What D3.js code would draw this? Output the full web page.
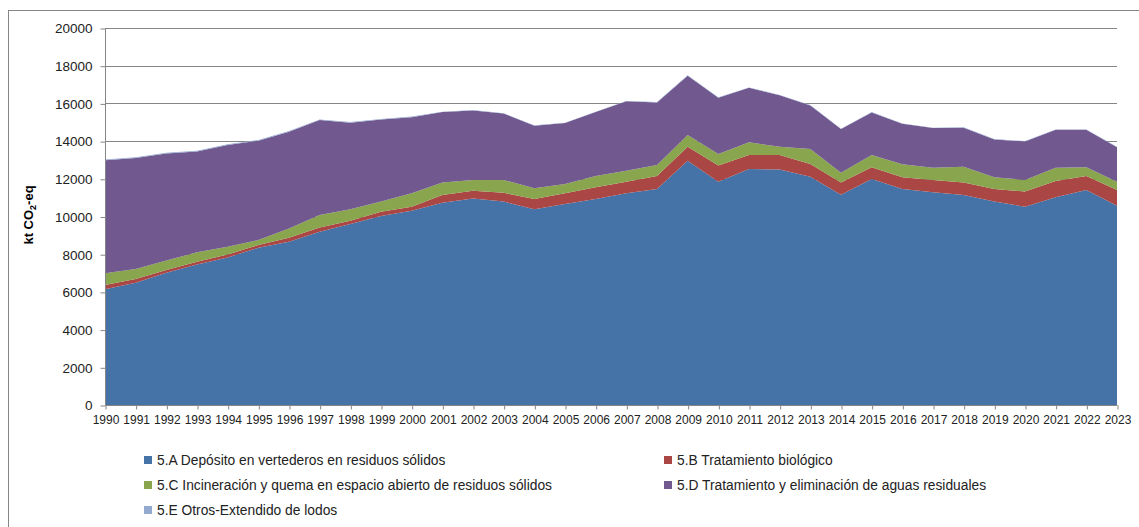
<!DOCTYPE html>
<html>
<head>
<meta charset="utf-8">
<script src="https://cdn.jsdelivr.net/npm/d3@7"></script>
<style>
  html, body { margin: 0; padding: 0; background: #fff; }
  svg { display: block; font-family: "Liberation Sans", Arial, sans-serif; }
</style>
</head>
<body>
<svg id="chart" width="1139" height="527"></svg>
<script>
const years = d3.range(1990, 2024);
const seriesNames = [
  "5.A Depósito en vertederos en residuos sólidos",
  "5.B Tratamiento biológico",
  "5.C Incineración y quema en espacio abierto de residuos sólidos",
  "5.D Tratamiento y eliminación de aguas residuales",
  "5.E Otros-Extendido de lodos"
];
const seriesKeys = ["A", "B", "C", "D", "E"];
const seriesColors = ["#4572A7", "#AA4643", "#89A54E", "#71588F", "#93A9CF"];

const valA = [6140, 6490, 7020, 7460, 7830, 8340, 8660, 9190, 9600, 10030,
  10300, 10730, 10960, 10790, 10380, 10660, 10930, 11230, 11460, 12960,
  11850, 12520, 12500, 12110, 11160, 11990, 11460, 11280, 11140, 10790,
  10520, 11020, 11410, 10570];
const valB = [230, 190, 140, 140, 160, 150, 210, 220, 180, 220,
  220, 410, 410, 470, 550, 570, 620, 620, 690, 740,
  850, 740, 760, 680, 650, 620, 620, 660, 670, 670,
  800, 860, 740, 840];
const valC = [620, 540, 500, 500, 410, 260, 500, 670, 600, 540,
  710, 660, 570, 680, 570, 490, 600, 580, 580, 620,
  620, 680, 440, 790, 510, 650, 690, 650, 830, 620,
  620, 710, 460, 440];
const valD = [6000, 5880, 5680, 5350, 5390, 5270, 5130, 5040, 4600, 4350,
  4040, 3740, 3690, 3520, 3320, 3240, 3390, 3680, 3320, 3150,
  2980, 2890, 2730, 2310, 2320, 2260, 2150, 2100, 2070, 2010,
  2040, 2010, 1990, 1830];
const valE = [40, 40, 40, 40, 40, 40, 30, 30, 30, 30,
  30, 20, 20, 20, 20, 20, 20, 20, 20, 20,
  20, 20, 20, 20, 20, 20, 20, 20, 20, 20,
  20, 20, 20, 20];
const yTicks = [0, 2000, 4000, 6000, 8000, 10000, 12000, 14000, 16000, 18000, 20000];

const table = years.map((yr, i) => ({
  year: yr, A: valA[i], B: valB[i], C: valC[i], D: valD[i], E: valE[i]
}));

const svg = d3.select("#chart");
const plotL = 105, plotR = 1117, plotT = 28, plotB = 405;

// outer frame
svg.append("rect").attr("x", 8.5).attr("y", 10.5).attr("width", 1150).attr("height", 540)
  .attr("fill", "none").attr("stroke", "#868686").attr("stroke-width", 1);

const x = d3.scaleLinear().domain([1990, 2023]).range([plotL, plotR]);
const y = d3.scaleLinear().domain([0, 20000]).range([plotB, plotT]);

// gridlines
svg.append("g").selectAll("line").data(yTicks.filter(d => d > 0)).join("line")
  .attr("x1", plotL).attr("x2", plotR)
  .attr("y1", d => Math.round(y(d)) + 0.5).attr("y2", d => Math.round(y(d)) + 0.5)
  .attr("stroke", "#868686").attr("stroke-width", 1.2);

const stacked = d3.stack().keys(seriesKeys)(table);
const area = d3.area()
  .x(d => x(d.data.year))
  .y0(d => y(d[0]))
  .y1(d => y(d[1]));

svg.append("g").selectAll("path").data(stacked).join("path")
  .attr("d", area)
  .attr("fill", (d, i) => seriesColors[i]);

// y axis
const yAxis = d3.axisLeft(y).tickValues(yTicks).tickSize(5).tickPadding(8).tickFormat(d3.format("d"));
const gy = svg.append("g").attr("transform", `translate(${plotL + 0.5},0.5)`).call(yAxis);
gy.select(".domain").attr("stroke", "#868686").attr("d", `M0,${plotT}V${plotB}`);
gy.selectAll(".tick line").attr("stroke", "#868686");
gy.selectAll(".tick text").attr("font-size", "13.5px").attr("fill", "#222")
  .attr("font-family", "'Liberation Sans', Arial, sans-serif");

// x axis
const xAxis = d3.axisBottom(x).tickValues(years).tickSize(4).tickPadding(6).tickFormat(d3.format("d"));
const gx = svg.append("g").attr("transform", `translate(0.5,${plotB + 0.5})`).call(xAxis);
gx.select(".domain").attr("stroke", "#868686").attr("d", `M${plotL},0H${plotR}`);
gx.selectAll(".tick line").attr("stroke", "#868686");
gx.selectAll(".tick text").attr("font-size", "12px").attr("fill", "#222")
  .attr("font-family", "'Liberation Sans', Arial, sans-serif");

// y axis title
const yt = svg.append("text")
  .attr("transform", "translate(33,215) rotate(-90)")
  .attr("text-anchor", "middle")
  .attr("font-size", "13px").attr("font-weight", "bold").attr("fill", "#000");
yt.append("tspan").text("kt CO");
yt.append("tspan").attr("font-size", "9px").attr("dy", "3").text("2");
yt.append("tspan").attr("dy", "-3").text("-eq");

// legend
const legendPos = [
  [144, 460], [664, 460], [144, 485], [664, 485], [144, 510]
];
const lg = svg.append("g").selectAll("g").data(seriesNames).join("g")
  .attr("transform", (d, i) => `translate(${legendPos[i][0]},${legendPos[i][1]})`);
lg.append("rect").attr("x", 0).attr("y", -4).attr("width", 8).attr("height", 8)
  .attr("fill", (d, i) => seriesColors[i]);
lg.append("text").attr("x", 13).attr("y", 0).attr("dy", "0.35em")
  .attr("font-size", "13.8px").attr("fill", "#222").text(d => d);
</script>
</body>
</html>
